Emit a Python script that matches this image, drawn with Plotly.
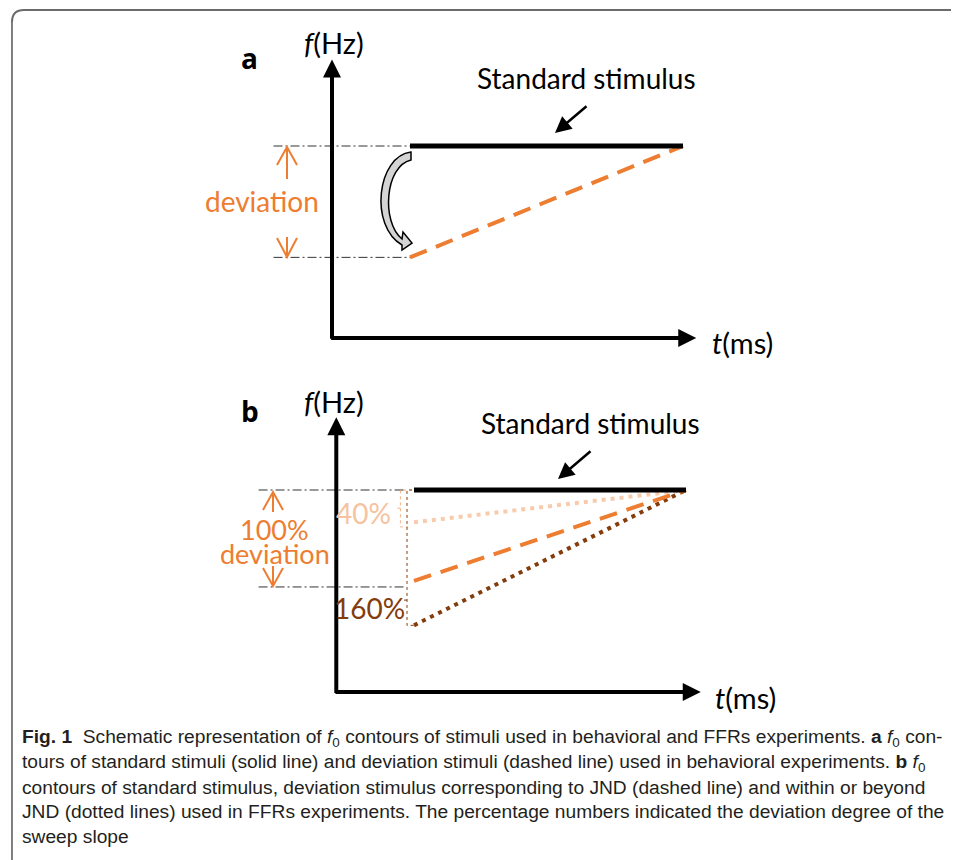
import plotly.graph_objects as go

W, H = 959, 860
OFF = 8  # page body margin: figure starts 8 px into the window

# ---------------- data (schematic units: t in ms, f in Hz-like units) ----------------
# Panel a
t_stim = [20, 90]                 # stimulus onset / offset
f_std_a = [100, 100]              # standard stimulus (flat)
f_dev_a = [42, 100]               # deviation stimulus (rising sweep)
# Panel b
f_std_b = [100, 100]
f_dev100_b = [55, 100]            # 100% deviation (JND)
f_dev40_b = [84, 100]             # 40% deviation
f_dev160_b = [33, 100]            # 160% deviation
f_guide_b = [100, 52]             # guide levels for "100% deviation"

pct_labels = ["40%", "160%"]
ORANGE = "#ED7D31"
LIGHT = "#F8CBAD"
BROWN = "#843C0C"
FONT = "Lato"


def P(x, y):
    """window pixel -> paper coordinates"""
    return (x - OFF) / W, 1 - (y - OFF) / H


def lin_range(v0, p0, v1, p1, pa, pb):
    s = (v1 - v0) / (p1 - p0)
    return [v0 + (pa - p0) * s, v0 + (pb - p0) * s]


fig = go.Figure()

GUIDE = dict(color="#333333", width=1, dash="9px,3px,2px,3px")

# ---------------- panel a traces ----------------
guide_a_t = [-15, t_stim[0]]
for fv in (f_std_a[0], f_dev_a[0]):
    fig.add_trace(go.Scatter(x=guide_a_t, y=[fv, fv], mode="lines", line=GUIDE,
                             xaxis="x", yaxis="y", hoverinfo="skip"))
fig.add_trace(go.Scatter(x=t_stim, y=f_dev_a, mode="lines",
                         line=dict(color=ORANGE, width=4, dash="18px,10px"),
                         xaxis="x", yaxis="y"))
fig.add_trace(go.Scatter(x=t_stim, y=f_std_a, mode="lines",
                         line=dict(color="black", width=5), xaxis="x", yaxis="y"))

# ---------------- panel b traces ----------------
guide_b_t = [-20, 17.7]
for fv in f_guide_b:
    fig.add_trace(go.Scatter(x=guide_b_t, y=[fv, fv], mode="lines", line=GUIDE,
                             xaxis="x2", yaxis="y2", hoverinfo="skip"))
# brackets (thin dotted)
fig.add_trace(go.Scatter(x=[19.5, 16.5, 16.5, 18.5, None, 16.5, 15.6],
                         y=[100, 100, 81.7, 81.7, None, 91, 91], mode="lines",
                         line=dict(color="#F4B183", width=1, dash="dot"),
                         xaxis="x2", yaxis="y2", hoverinfo="skip"))
fig.add_trace(go.Scatter(x=[19.5, 18.2, 18.2, 20.2, None, 18.2, 16.4],
                         y=[100, 100, f_dev160_b[0], f_dev160_b[0], None, 45.5, 45.5], mode="lines",
                         line=dict(color=BROWN, width=1, dash="dot"),
                         xaxis="x2", yaxis="y2", hoverinfo="skip"))
fig.add_trace(go.Scatter(x=t_stim, y=f_dev40_b, mode="lines",
                         line=dict(color=LIGHT, width=4, dash="4px,5px"),
                         xaxis="x2", yaxis="y2"))
fig.add_trace(go.Scatter(x=t_stim, y=f_dev160_b, mode="lines",
                         line=dict(color=BROWN, width=4, dash="4px,5px"),
                         xaxis="x2", yaxis="y2"))
fig.add_trace(go.Scatter(x=t_stim, y=f_dev100_b, mode="lines",
                         line=dict(color=ORANGE, width=4, dash="18px,10px"),
                         xaxis="x2", yaxis="y2"))
fig.add_trace(go.Scatter(x=t_stim, y=f_std_b, mode="lines",
                         line=dict(color="black", width=5), xaxis="x2", yaxis="y2"))

ann = []


def text(x, y, s, size=28, color="black", family=FONT, xanchor="center"):
    px_, py_ = P(x, y)
    ann.append(dict(x=px_, y=py_, xref="paper", yref="paper", text=s, showarrow=False,
                    xanchor=xanchor, yanchor="middle",
                    font=dict(size=size, color=color, family=family)))


def arrow_px(tipx, tipy, dx, dy, color, width, head, size):
    px_, py_ = P(tipx, tipy)
    ann.append(dict(x=px_, y=py_, xref="paper", yref="paper", text="", showarrow=True,
                    ax=dx, ay=dy, arrowhead=head, arrowsize=size, arrowwidth=width,
                    arrowcolor=color))


def axis_arrow(xr, yr, tx, ty, sx, sy):
    ann.append(dict(x=tx, y=ty, xref=xr, yref=yr, axref=xr, ayref=yr, ax=sx, ay=sy,
                    text="", showarrow=True, arrowhead=2, arrowsize=0.9, arrowwidth=4,
                    arrowcolor="black"))


# axes (panel a)
axis_arrow("x", "y", 0, 145, 0, -1.2)
axis_arrow("x", "y", 93.4, 0, -0.6, 0)
# axes (panel b)
axis_arrow("x2", "y2", 0, 136, 0, -1.2)
axis_arrow("x2", "y2", 93.8, 0, -0.6, 0)

# texts
text(249, 58, "<b>a</b>", size=28, family="Open Sans")
text(250, 411, "<b>b</b>", size=28, family="Open Sans")
text(334, 43, "<i>f</i>(Hz)", size=29)
text(742, 342, "<i>t</i>(ms)", size=29)
text(334, 401, "<i>f</i>(Hz)", size=29)
text(745, 697, "<i>t</i>(ms)", size=29)
text(586, 78, "Standard stimulus", size=28)
text(590, 423, "Standard stimulus", size=28)
text(262, 201, "deviation", size=28, color=ORANGE)
text(274, 529, "100%", size=27, color=ORANGE)
text(275, 553, "deviation", size=27, color=ORANGE)
text(363, 513, pct_labels[0], size=28, color="#F5C3A0")
text(369, 608, pct_labels[1], size=28, color=BROWN)

# pointer arrows "Standard stimulus"
arrow_px(555, 133, 33, -28, "black", 2.5, 2, 1.3)
arrow_px(558, 479, 34, -29, "black", 2.5, 2, 1.3)

# caption
cap = [
    "<b>Fig. 1</b>  Schematic representation of <i>f</i><sub>0</sub> contours of stimuli used in behavioral and FFRs experiments. <b>a</b> <i>f</i><sub>0</sub> con-",
    "tours of standard stimuli (solid line) and deviation stimuli (dashed line) used in behavioral experiments. <b>b</b> <i>f</i><sub>0</sub>",
    "contours of standard stimulus, deviation stimulus corresponding to JND (dashed line) and within or beyond",
    "JND (dotted lines) used in FFRs experiments. The percentage numbers indicated the deviation degree of the",
    "sweep slope",
]
for i, line in enumerate(cap):
    text(20, 738 + i * 24.6, line, size=19.2, color="#231F20", family="Liberation Sans", xanchor="left")


def path(pts):
    out = []
    for cmd, coords in pts:
        c = []
        for j in range(0, len(coords), 2):
            a, b = P(coords[j], coords[j + 1])
            c.append(f"{a:.5f},{b:.5f}")
        out.append(cmd + " " + " ".join(c))
    return " ".join(out)


shapes = []


def open_arrow(x, tip, tail, arm_y, half):
    p = path([("M", (x, tail)), ("L", (x, tip)),
              ("M", (x - half, arm_y)), ("L", (x, tip)), ("L", (x + half, arm_y))])
    shapes.append(dict(type="path", path=p, xref="paper", yref="paper",
                       line=dict(color=ORANGE, width=2)))


# orange deviation arrows (open chevrons)
open_arrow(287, 147, 179, 165, 10)
open_arrow(287, 257, 237, 238, 10)
open_arrow(273, 492, 512, 510, 10)
open_arrow(273, 586, 566, 568, 10)

# curved block arrow (panel a)
curve = path([("M", (411, 152)), ("C", (377, 156, 369, 226, 402, 245)), ("L", (402, 250)),
              ("L", (412, 243)), ("L", (403, 232)), ("L", (402, 239)),
              ("C", (381, 222, 385, 166, 411, 160))]) + " Z"
shapes.append(dict(type="path", path=curve, xref="paper", yref="paper",
                   fillcolor="#d4d4d4", line=dict(color="black", width=1.5)))
# figure frame with rounded corner
top = path([("M", (12, 22)), ("Q", (12, 10, 24, 10)), ("L", (970, 10))])
shapes.append(dict(type="path", path=top, xref="paper", yref="paper",
                   line=dict(color="#6b6b6b", width=2)))
left = path([("M", (12, 22)), ("L", (12, 870))])
shapes.append(dict(type="path", path=left, xref="paper", yref="paper",
                   line=dict(color="black", width=1)))

xa = lin_range(20, 410, 90, 683, OFF, OFF + W)
ya = lin_range(100, 146, 0, 338, OFF + H, OFF)
xb = lin_range(20, 414, 90, 686, OFF, OFF + W)
yb = lin_range(100, 490, 0, 692, OFF + H, OFF)

ax_common = dict(visible=False, fixedrange=True, domain=[0, 1])
fig.update_layout(
    width=W, height=H, margin=dict(l=0, r=0, t=0, b=0),
    paper_bgcolor="white", plot_bgcolor="rgba(0,0,0,0)", showlegend=False,
    xaxis=dict(range=xa, **ax_common),
    yaxis=dict(range=ya, **ax_common),
    xaxis2=dict(range=xb, overlaying="x", **ax_common),
    yaxis2=dict(range=yb, overlaying="y", **ax_common),
    annotations=ann, shapes=shapes,
)

fig.write_html("out.html")
